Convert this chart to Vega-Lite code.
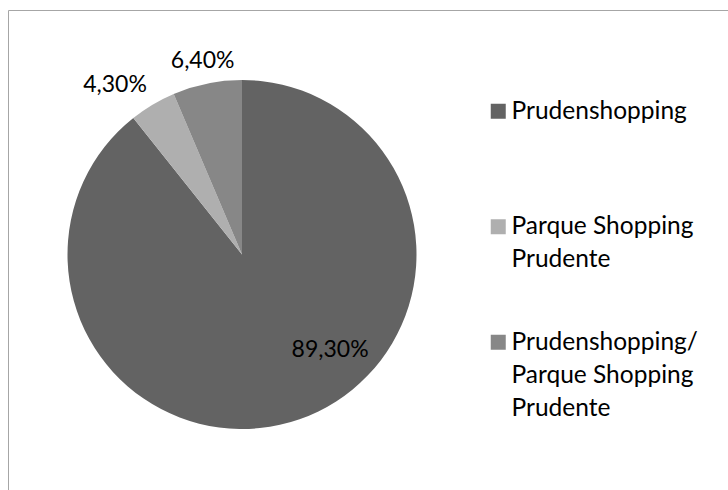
{
  "$schema": "https://vega.github.io/schema/vega-lite/v6.json",
  "width": 721,
  "height": 481,
  "autosize": {"type": "none"},
  "padding": {"left": 8, "top": 10, "right": -1, "bottom": -1},
  "background": "white",
  "view": {"stroke": "#a6a6a6", "strokeWidth": 1, "strokeDash": [721, 1202, 481, 0], "fill": "white"},
  "config": {"font": "Lato"},
  "data": {
    "values": [
      {"local": "Prudenshopping", "pct": 89.3, "label": "89,30%", "ordem": 1},
      {"local": "Parque Shopping Prudente", "pct": 4.3, "label": "4,30%", "ordem": 2},
      {"local": "Prudenshopping/Parque Shopping Prudente", "pct": 6.4, "label": "6,40%", "ordem": 3}
    ]
  },
  "encoding": {
    "theta": {"field": "pct", "type": "quantitative", "stack": true},
    "order": {"field": "ordem", "type": "quantitative"}
  },
  "layer": [
    {
      "mark": {"type": "arc", "outerRadius": 174.5, "xOffset": -126.5, "yOffset": 4},
      "encoding": {
        "color": {
          "field": "local",
          "type": "nominal",
          "scale": {
            "domain": ["Prudenshopping", "Parque Shopping Prudente", "Prudenshopping/Parque Shopping Prudente"],
            "range": ["#636363", "#afafaf", "#878787"]
          },
          "legend": {
            "title": null,
            "orient": "none",
            "legendX": 478,
            "legendY": 89,
            "padding": 0,
            "symbolType": "square",
            "symbolSize": 225,
            "symbolStrokeWidth": 0,
            "labelFont": "Lato",
            "labelFontSize": 24.5,
            "labelColor": "#000000",
            "labelLimit": 400,
            "labelOffset": 1,
            "labelBaseline": "top",
            "rowPadding": 23.5,
            "labelExpr": "datum.label == 'Parque Shopping Prudente' ? ['Parque Shopping', 'Prudente', ' '] : datum.label == 'Prudenshopping/Parque Shopping Prudente' ? ['Prudenshopping/', 'Parque Shopping', 'Prudente'] : [datum.label, ' ', ' ']",
            "encode": {"labels": {"update": {"dy": {"value": -11.5}, "lineHeight": {"value": 33}}}}
          }
        }
      }
    },
    {
      "mark": {"type": "text", "radius": 130, "thetaOffset": -0.408, "xOffset": -126.5, "yOffset": 4, "fontSize": 23, "font": "Lato", "color": "#000000"},
      "encoding": {
        "text": {"condition": {"test": "datum.ordem == 1", "field": "label"}, "value": ""}
      }
    },
    {
      "mark": {"type": "text", "radius": 212, "thetaOffset": -0.105, "xOffset": -126.5, "yOffset": 4, "fontSize": 23, "font": "Lato", "color": "#000000"},
      "encoding": {
        "text": {"condition": {"test": "datum.ordem == 2", "field": "label"}, "value": ""}
      }
    },
    {
      "mark": {"type": "text", "radius": 197, "xOffset": -126.5, "yOffset": 4, "fontSize": 23, "font": "Lato", "color": "#000000"},
      "encoding": {
        "text": {"condition": {"test": "datum.ordem == 3", "field": "label"}, "value": ""}
      }
    }
  ]
}
